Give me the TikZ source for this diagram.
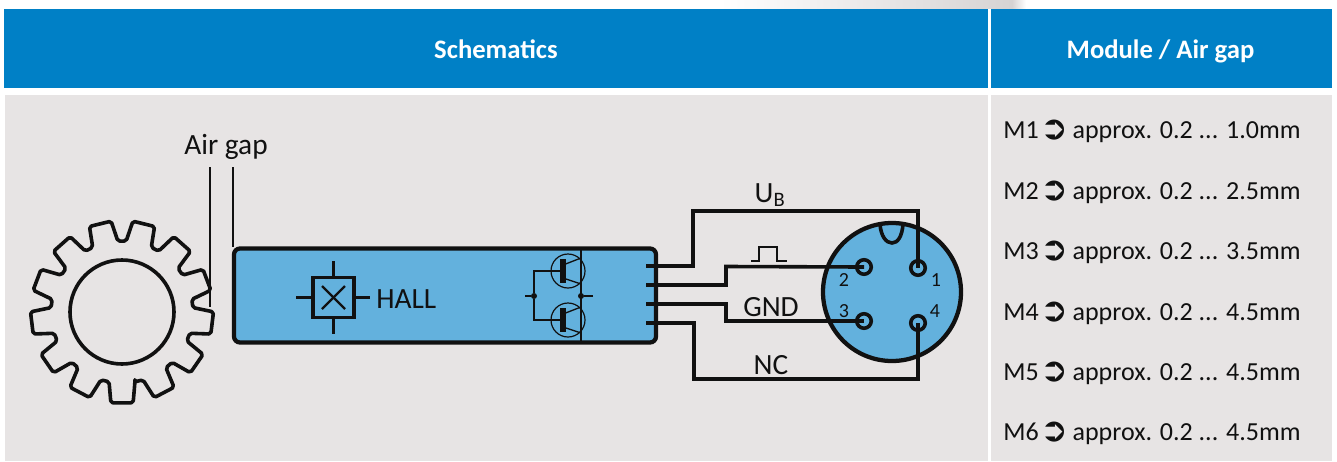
\documentclass[tikz,border=0pt]{standalone}
\usepackage{fontspec}
\setmainfont{Carlito}
\newfontfamily\symfont{DejaVu Sans}
\definecolor{hdr}{HTML}{0080C6}
\definecolor{panel}{HTML}{E7E4E4}
\definecolor{cyanbox}{HTML}{63B1DD}
\definecolor{ink}{HTML}{111111}
\definecolor{swoosh}{HTML}{D6D3D3}
\tikzset{
  headbox/.style={anchor=base,draw=none,inner sep=0pt,text=white,font=\fontsize{20}{22}\selectfont\bfseries},
  wire/.style={draw=ink,line width=2.7pt,line join=miter},
  thin wire/.style={draw=ink,line width=1pt},
  lead/.style={draw=ink,line width=2.4pt},
  label/.style={inner sep=0pt,text=ink,font=\fontsize{22}{24}\selectfont},
  pinno/.style={inner sep=0pt,text=ink,font=\fontsize{15}{17}\selectfont},
  pin/.style={circle,draw=ink,line width=2.7pt,fill=cyanbox,minimum size={14.5*0.75pt},inner sep=0pt},
  row/.style={anchor=base west,inner sep=0pt,text=ink,font=\fontsize{19.5}{22}\selectfont},
  tr/.style={circle,draw=ink,line width=0.9pt,minimum size={34*0.75pt},inner sep=0pt},
  dotn/.style={circle,fill=ink,draw=none,minimum size={6*0.75pt},inner sep=0pt}
}
\newcommand{\rowtxt}[2]{M#1\hspace{-3.3pt} {\symfont\fontsize{25}{25}\selectfont\raisebox{-0.8pt}{\char"27B2}}\hspace{-1pt} approx. 0.2 ... #2mm}
\begin{document}
\begin{tikzpicture}[x=0.75pt,y=-0.75pt]
\useasboundingbox (0,0) rectangle (1337,461);
\fill[white] (0,0) rectangle (1337,461);
\shade[left color=white,right color=swoosh,draw=none] (720,0) rectangle (1012,8);
\shade[left color=swoosh,right color=white,draw=none] (1012,0) rectangle (1026,8);
% panels
\fill[hdr] (4,9) rectangle (988,88);
\fill[hdr] (991,9) rectangle (1332,88);
\fill[panel] (5,95) rectangle (988,461);
\fill[panel] (991,95) rectangle (1332,461);
\node[headbox] (h1) at (496,58) {Schematics};
\node[headbox] (h2) at (1160.5,58) {Module / Air gap};
% rows
\node[row] (m1) at (1003,138.5) {\rowtxt{1}{1.0}};
\node[row] (m2) at (1003,199) {\rowtxt{2}{2.5}};
\node[row] (m3) at (1003,259.5) {\rowtxt{3}{3.5}};
\node[row] (m4) at (1003,320.5) {\rowtxt{4}{4.5}};
\node[row] (m5) at (1003,380.5) {\rowtxt{5}{4.5}};
\node[row] (m6) at (1003,440.5) {\rowtxt{6}{4.5}};
% gear
\begin{scope}[shift={(122,312)}]
\draw[draw=ink,line width=2.7pt,rounded corners=1.5pt,line join=round]
  (90-10.5:71)
  \foreach \i in {0,...,12}{
    -- ({90+\i*360/13-10.5}:71) -- ({90+\i*360/13-7}:91.5) -- ({90+\i*360/13+7}:91.5) -- ({90+\i*360/13+10.5}:71)
  } -- cycle;
\end{scope}
\node[circle,draw=ink,line width=2.7pt,minimum size={104*0.75pt},inner sep=0pt] (hub) at (122,312) {};
% air gap
\node[label,anchor=base] (ag) at (226,154) {Air gap};
\coordinate (ga) at (210,167); \coordinate (gae) at (210,307);
\coordinate (gb) at (233,167); \coordinate (gbe) at (233,247);
\draw[draw=ink,line width=1.1pt] (ga) -- (gae);
\draw[draw=ink,line width=1.1pt] (gb) -- (gbe);
% sensor wires underneath the box outline
\coordinate (s1) at (646,266);
\coordinate (s2) at (646,285);
\coordinate (s3) at (646,304);
\coordinate (s4) at (646,323);
% sensor
\node[draw=ink,fill=cyanbox,line width=3.2pt,rounded corners=4.5pt,minimum width={422*0.75pt},minimum height={94*0.75pt},inner sep=0pt] (box) at (445,295.5) {};
% hall
\node[draw=ink,line width=2.4pt,minimum width={41*0.75pt},minimum height={40*0.75pt},inner sep=0pt] (hall) at (333.5,297.5) {};
\draw[lead] (hall.west) -- ++(-15,0);
\draw[lead] (hall.east) -- ++(14,0);
\draw[lead] (hall.north) -- ++(0,-15);
\draw[lead] (hall.south) -- ++(0,15);
\draw[draw=ink,line width=1.8pt] (hall.center) ++(-11.5,-11.5) -- ++(23,23);
\draw[draw=ink,line width=1.8pt] (hall.center) ++(11.5,-11.5) -- ++(-23,23);
\node[label,anchor=base west] (hl) at (376,308) {HALL};
% transistors
\node[tr] (t1) at (568,271) {};
\node[tr] (t2) at (568,320) {};
\coordinate (rt) at (581,247); \coordinate (rb) at (581,344);
\node[dotn] (dl) at (534,296) {};
\node[dotn] (dr) at (581,296) {};
\coordinate (dlo) at (525,296); \coordinate (dro) at (593,296);
\draw[thin wire] (dlo) -- (dl);
\draw[thin wire] (dro) -- (dr);
\draw[thin wire] (rt) -- (rb);
\coordinate (b1) at (563,271); \coordinate (b2) at (563,320);
\draw[thin wire] (dl) |- (b1);
\draw[thin wire] (dl) |- (b2);
\draw[draw=ink,line width=3.8pt] (563,259) -- (563,283);
\draw[draw=ink,line width=3.8pt] (563,308) -- (563,332);
\draw[thin wire] (563,265) -- (581,258);
\draw[thin wire] (563,278) -- (581,284);
\draw[thin wire] (563,314) -- (581,307);
\draw[thin wire] (563,327) -- (581,333);
% connector
\node[circle,draw=ink,fill=cyanbox,line width=3.2pt,minimum size={138*0.75pt},inner sep=0pt] (conn) at (892,292) {};
\draw[draw=ink,line width=2.7pt] (880,224.5) .. controls (881,236) and (886,243) .. (892,243) .. controls (898,243) and (902,236) .. (903,224.5);
\node[pin] (p1) at (918,268) {};
\node[pin] (p2) at (864,267) {};
\node[pin] (p3) at (864,321) {};
\node[pin] (p4) at (918,323) {};
\draw[wire] (s1) -- (693,266) -- (693,211) -- (918,211) -- (p1.center);
\draw[wire] (s2) -- (726,285) -- (726,266.5) -- (p2.center);
\draw[wire] (s3) -- (726,304) -- (726,321) -- (p3.center);
\draw[wire] (s4) -- (694,323) -- (694,379) -- (918,379) -- (p4.center);
\node[pinno] (n1) at (936,280) {1};
\node[pinno] (n2) at (844,280) {2};
\node[pinno] (n3) at (844,311) {3};
\node[pinno] (n4) at (935,311) {4};
% wire labels
\node[label,anchor=base] (ub) at (770,202) {U\textsubscript{B}};
\node[label,anchor=base] (gnd) at (771,316) {GND};
\node[label,anchor=base] (nc) at (771,374) {NC};
\draw[draw=ink,line width=1.5pt] (751,261) -- (759,261) -- (759,247) -- (777,247) -- (777,261) -- (787,261);
\end{tikzpicture}
\end{document}
